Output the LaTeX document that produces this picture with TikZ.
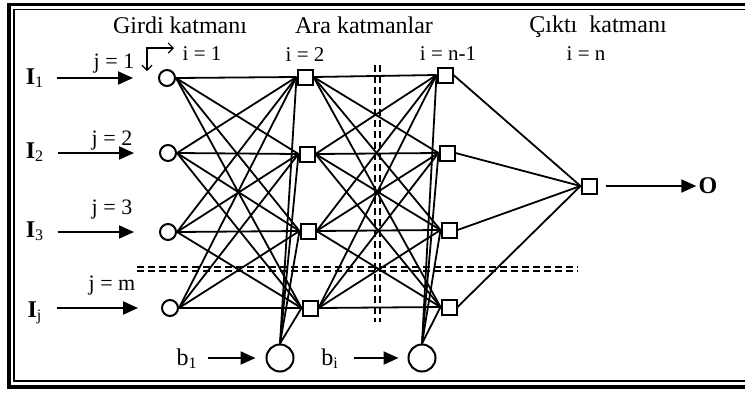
\documentclass[tikz,border=0pt]{standalone}
\usepackage{fontspec}
\setmainfont{Liberation Serif}
\usetikzlibrary{arrows.meta}

\tikzset{
  inunit/.style={draw, circle, line width=1pt, fill=white, minimum size=8pt, inner sep=0pt},
  neuron/.style={draw, rectangle, line width=1pt, fill=white, minimum size=7.5pt, inner sep=0pt},
  biasunit/.style={draw, circle, line width=1pt, fill=white, minimum size=13.5pt, inner sep=0pt},
  feed/.style={-{Triangle[length=7.5pt,width=6.5pt]}, line width=1pt},
  link/.style={line width=0.9pt},
  cut/.style={dash pattern=on 3.5pt off 2pt, line width=0.9pt},
  turnarrow/.style={{Straight Barb[length=2.5pt,width=5pt]}-{Straight Barb[length=2.5pt,width=5pt]}, line width=0.6pt},
  lbl/.style={font=\fontsize{12}{14}\selectfont, inner sep=0pt, anchor=base},
  idx/.style={font=\fontsize{10.5}{12}\selectfont, inner sep=0pt, anchor=base},
  sig/.style={font=\fontsize{12}{14}\selectfont\bfseries, inner sep=0pt, anchor=base},
}

\begin{document}
\begin{tikzpicture}[x=0.5pt, y=-0.5pt]
        \useasboundingbox (0,0) rectangle (745,392);
        % Frame
        \draw [line width=1.8pt] (9,4.5) rectangle (770,387);
        \draw [line width=0.9pt] (14,9.5) rectangle (770,381);

        % Titles
        \node (girdi) [lbl] at (180,33) {Girdi katmanı};
        \node (ara) [lbl] at (364,33) {Ara katmanlar};
        \node (cikti) [lbl] at (598,32) {Çıktı\ \ katmanı};
        \node (i1) [idx] at (202,60) {i = 1};
        \node (i2) [idx] at (305,61) {i = 2};
        \node (in1lab) [idx] at (448,60) {i = n-1};
        \node (inn) [idx] at (586,60) {i = n};

        % Input Layer
        \node (in1) [inunit] at (167,78) {};
        \node (in2) [inunit] at (168,153) {};
        \node (in3) [inunit] at (168,232) {};
        \node (in4) [inunit] at (170,308) {};
        \node (j1) [lbl, font=\fontsize{11}{13}\selectfont] at (114,68) {j = 1};
        \node (j2) [lbl, font=\fontsize{11}{13}\selectfont] at (112,145) {j = 2};
        \node (j3) [lbl, font=\fontsize{11}{13}\selectfont] at (112,214) {j = 3};
        \node (jm) [lbl, font=\fontsize{11}{13}\selectfont] at (112,290) {j = m};
        \node (sI1) [sig] at (35,84) {I\textsubscript{\mdseries 1}};
        \node (sI2) [sig] at (35,158) {I\textsubscript{\mdseries 2}};
        \node (sI3) [sig] at (35,237) {I\textsubscript{\mdseries 3}};
        \node (sIj) [sig] at (35,317) {I\textsubscript{\mdseries j}};

        % Hidden Layers
        \node (ha1) [neuron] at (305,77) {};
        \node (ha2) [neuron] at (307,154) {};
        \node (ha3) [neuron] at (308,231) {};
        \node (ha4) [neuron] at (310,308) {};
        \node (hb1) [neuron] at (445,75) {};
        \node (hb2) [neuron] at (447,153) {};
        \node (hb3) [neuron] at (449,230) {};
        \node (hb4) [neuron] at (449,307) {};

        % Bias Units
        \node (bias1) [biasunit] at (280,358) {};
        \node (bias2) [biasunit] at (422,358) {};
        \node (b1) [lbl] at (187,365) {b\textsubscript{1}};
        \node (bi) [lbl] at (330,365) {b\textsubscript{i}};

        % Output Layer
        \node (out) [neuron] at (589,186) {};
        \node (O) [sig] at (708,193) {O};

        % Connections
        \foreach \a in {1,...,4}
          \foreach \b in {1,...,4} {
            \draw [link] (in\a.east) -- (ha\b.west);
            \draw [link] (ha\a.east) -- (hb\b.west);
          }
        \foreach \b in {1,...,4} {
          \draw [link] (bias1.north) -- (ha\b.west);
          \draw [link] (bias2.north) -- (hb\b.west);
          \draw [link] (hb\b.east) -- (out.west);
        }

        % Arrows
        \draw [feed, shorten <=6pt, shorten >=12.5pt] (sI1.east |- in1) -- (in1.west);
        \draw [feed, shorten <=6.5pt, shorten >=12.5pt] (sI2.east |- in2) -- (in2.west);
        \draw [feed, shorten <=6.5pt, shorten >=12.5pt] (sI3.east |- in3) -- (in3.west);
        \draw [feed, shorten <=7pt, shorten >=11.5pt] (sIj.east |- in4) -- (in4.west);
        \draw [feed, shorten <=5pt, shorten >=5pt] (b1.east |- bias1) -- (bias1.west);
        \draw [feed, shorten <=7.5pt, shorten >=4.5pt] (bi.east |- bias2) -- (bias2.west);
        \draw [feed, shorten <=4pt, shorten >=1pt] (out.east) -- (O.west |- out);

        % Index marker
        \coordinate (bend) at (147,48);
        \coordinate (bendR) at (174,48);
        \coordinate (bendD) at (147,71);
        \draw [turnarrow] (bendR) -- (bend) -- (bendD);

        % Cuts
        \draw [cut] (137,267) -- (578,267);
        \draw [cut] (137,271) -- (578,271);
        \draw [cut] (375,65) -- (375,322);
        \draw [cut] (380,65) -- (380,322);
    \end{tikzpicture}
\end{document}
